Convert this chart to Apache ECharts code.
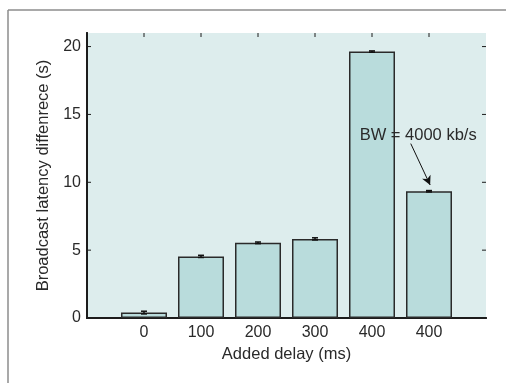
<!DOCTYPE html>
<html>
<head>
<meta charset="utf-8">
<script src="https://cdn.jsdelivr.net/npm/echarts@6/dist/echarts.min.js"></script>
<style>
html,body{margin:0;padding:0;background:#fff;}
#chart{width:506px;height:383px;}
</style>
</head>
<body>
<div id="chart"></div>
<script>
// ---- data ----
const categories = ['0', '100', '200', '300', '400', '400'];
const latency = [0.4, 4.54, 5.54, 5.83, 19.63, 9.34];
const errors = [0.1, 0.08, 0.06, 0.08, 0.05, 0.05];
const yTicks = [0, 5, 10, 15, 20];
const annotationText = 'BW = 4000 kb/s';

const TITLE_FONT = '"Liberation Sans", Arial, sans-serif';
const TICK_FONT = '"Liberation Sans", Arial, sans-serif';
const INK = '#1c1c1c';
const TICK_LEN = 4;

const barData = latency.map((v, i) => [i + 1, v]);
const errData = latency.map((v, i) => [i + 1, v, errors[i]]);
const yTickData = yTicks.map(v => [0, v]);
const xTickData = categories.map((c, i) => [i + 1, 0]);

const chart = echarts.init(document.getElementById('chart'), null, {renderer: 'canvas'});

function axisLine() { return {show: true, lineStyle: {color: INK, width: 2}}; }

const option = {
  animation: false,
  backgroundColor: '#ffffff',
  grid: {
    left: 87, top: 33, right: 20, bottom: 65,
    show: true, backgroundColor: '#ddeded', borderWidth: 0
  },
  xAxis: [
    {
      type: 'value', min: 0, max: categories.length + 1, interval: 1,
      position: 'bottom',
      splitLine: {show: false},
      axisLine: axisLine(),
      axisTick: {show: false},
      axisLabel: {
        margin: 7, color: '#2a2a2a', fontFamily: TICK_FONT, fontSize: 16,
        formatter: v => (v >= 1 && v <= categories.length) ? categories[v - 1] : ''
      },
      name: 'Added delay (ms)', nameLocation: 'middle', nameGap: 27,
      nameTextStyle: {color: '#2a2a2a', fontFamily: TITLE_FONT, fontSize: 16.5}
    },
    {
      type: 'value', min: 0, max: categories.length + 1, interval: 1,
      position: 'top',
      splitLine: {show: false},
      axisLine: axisLine(),
      axisTick: {show: false},
      axisLabel: {show: false}
    }
  ],
  yAxis: [
    {
      type: 'value', min: 0, max: 21, interval: 5,
      position: 'left',
      splitLine: {show: false},
      axisLine: axisLine(),
      axisTick: {show: false},
      axisLabel: {
        margin: 6, color: '#2a2a2a', fontFamily: TICK_FONT, fontSize: 16,
        showMaxLabel: false,
        formatter: v => yTicks.includes(v) ? String(v) : ''
      },
      name: 'Broadcast latency diffenrece (s)', nameLocation: 'middle', nameGap: 31,
      nameTextStyle: {color: '#2a2a2a', fontFamily: TITLE_FONT, fontSize: 16.5}
    },
    {
      type: 'value', min: 0, max: 21, interval: 5,
      position: 'right',
      splitLine: {show: false},
      axisLine: axisLine(),
      axisTick: {show: false},
      axisLabel: {show: false}
    }
  ],
  series: [
    {
      type: 'bar',
      data: barData,
      barWidth: 46,
      itemStyle: {color: '#b9dcdc', borderColor: '#2a2a2a', borderWidth: 1.5},
      markLine: {
        silent: true,
        symbol: ['none', 'arrow'],
        symbolSize: [7, 9],
        lineStyle: {color: '#111', width: 1, type: 'solid'},
        label: {show: false},
        data: [[{coord: [5.68, 12.85]}, {coord: [6.02, 9.8]}]]
      },
      z: 2
    },
    {
      type: 'custom',
      data: errData,
      z: 5,
      renderItem: (params, api) => {
        const x = api.value(0), y = api.value(1), e = api.value(2);
        const hi = api.coord([x, y + e]);
        const lo = api.coord([x, y - e]);
        const w = 3;
        const st = {stroke: '#111', lineWidth: 1.5};
        return {
          type: 'group',
          children: [
            {type: 'line', shape: {x1: hi[0], y1: hi[1], x2: lo[0], y2: lo[1]}, style: st},
            {type: 'line', shape: {x1: hi[0] - w, y1: hi[1], x2: hi[0] + w, y2: hi[1]}, style: st},
            {type: 'line', shape: {x1: lo[0] - w, y1: lo[1], x2: lo[0] + w, y2: lo[1]}, style: st}
          ]
        };
      }
    },
    {
      // inward ticks on the left and right y axes
      type: 'custom',
      data: yTickData,
      z: 1,
      silent: true,
      renderItem: (params, api) => {
        const cs = params.coordSys;
        const p = api.coord([api.value(0), api.value(1)]);
        const st = {stroke: INK, lineWidth: 1};
        return {
          type: 'group',
          children: [
            {type: 'line', shape: {x1: cs.x, y1: p[1], x2: cs.x + TICK_LEN, y2: p[1]}, style: st},
            {type: 'line', shape: {x1: cs.x + cs.width, y1: p[1], x2: cs.x + cs.width - TICK_LEN, y2: p[1]}, style: st}
          ]
        };
      }
    },
    {
      // inward ticks on the top and bottom x axes
      type: 'custom',
      data: xTickData,
      z: 1,
      silent: true,
      renderItem: (params, api) => {
        const cs = params.coordSys;
        const p = api.coord([api.value(0), api.value(1)]);
        const st = {stroke: INK, lineWidth: 1};
        return {
          type: 'group',
          children: [
            {type: 'line', shape: {x1: p[0], y1: cs.y, x2: p[0], y2: cs.y + TICK_LEN}, style: st},
            {type: 'line', shape: {x1: p[0], y1: cs.y + cs.height, x2: p[0], y2: cs.y + cs.height - TICK_LEN}, style: st}
          ]
        };
      }
    }
  ]
};

chart.setOption(option);

const textPos = chart.convertToPixel({xAxisIndex: 0, yAxisIndex: 0}, [5.81, 13.45]);
chart.setOption({
  graphic: [
    {type: 'line', shape: {x1: 8, y1: 10, x2: 8, y2: 383}, style: {stroke: '#8c8c8c', lineWidth: 1.5}, silent: true},
    {type: 'line', shape: {x1: 8, y1: 10, x2: 506, y2: 10}, style: {stroke: '#8c8c8c', lineWidth: 1.5}, silent: true},
    {
      type: 'text', x: textPos[0], y: textPos[1], z: 100,
      style: {
        text: annotationText, fill: '#2a2a2a',
        font: '16.5px ' + TICK_FONT, align: 'center', verticalAlign: 'middle'
      }
    }
  ]
});
</script>
</body>
</html>
